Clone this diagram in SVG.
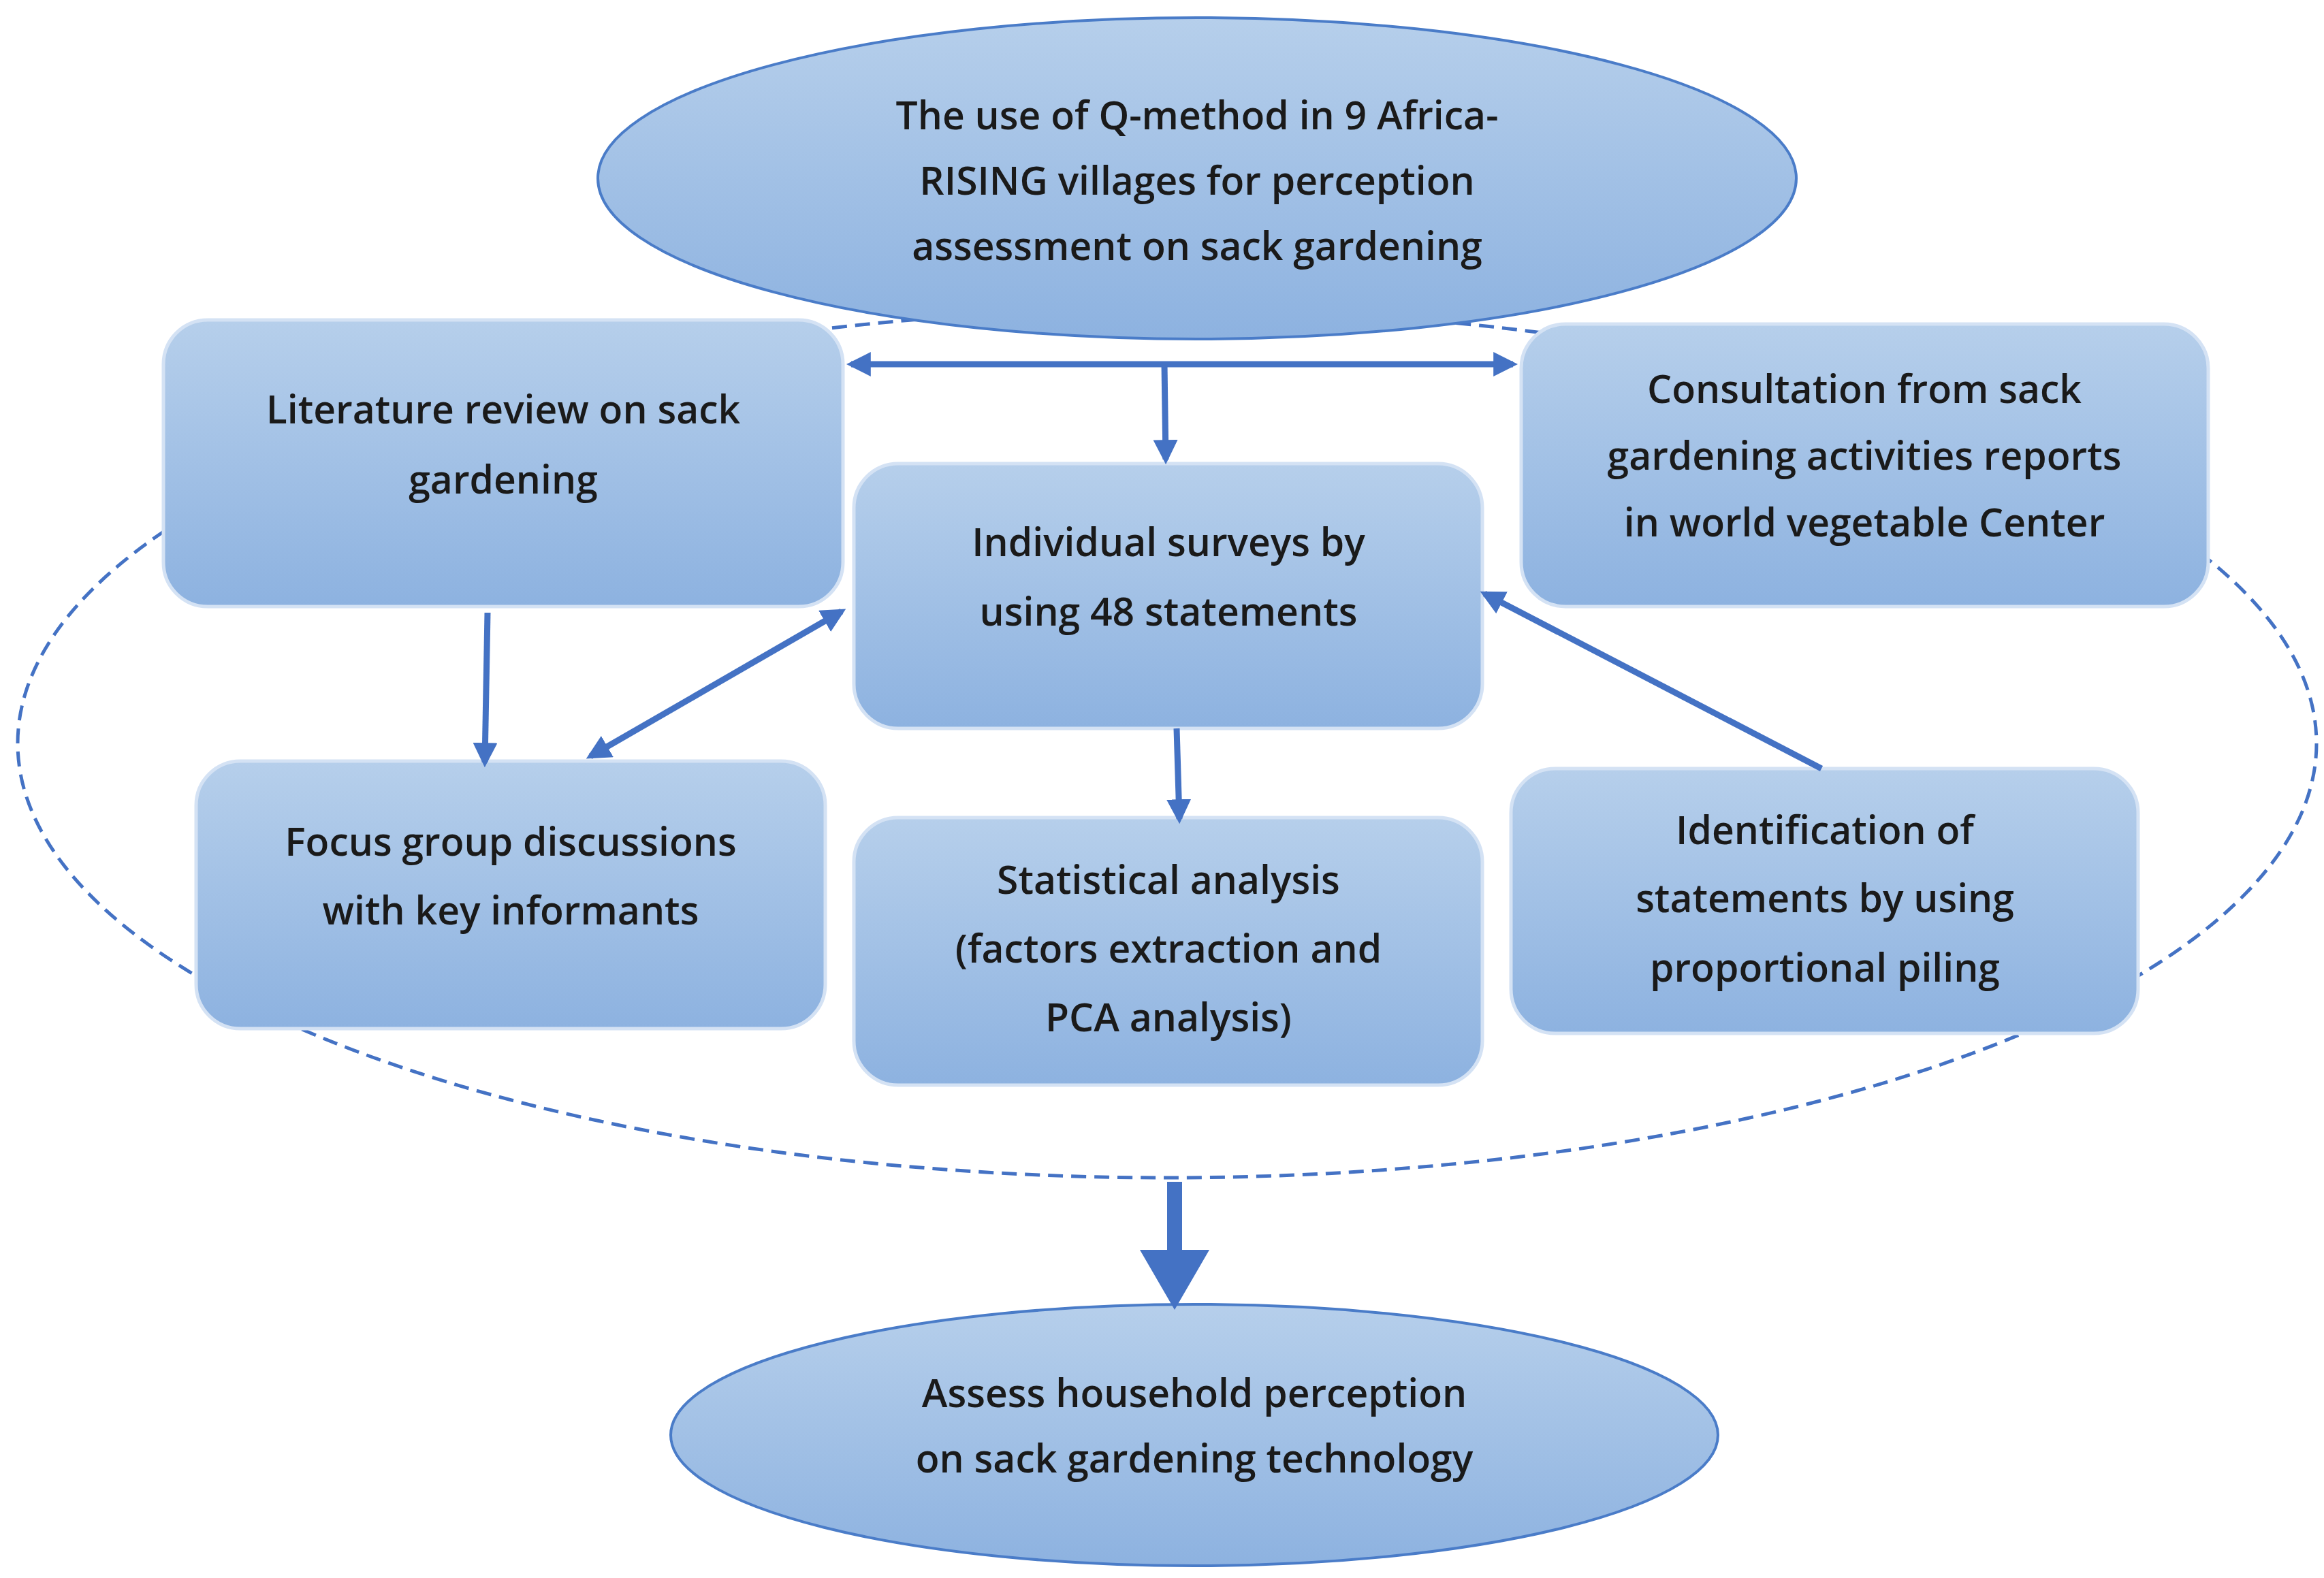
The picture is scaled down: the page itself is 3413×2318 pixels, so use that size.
<svg xmlns="http://www.w3.org/2000/svg" width="3413" height="2318" viewBox="0 0 3413 2318">
<style>
.t{font-family:"Open Sans","Liberation Sans",sans-serif;font-size:57px;font-weight:600;fill:#1a1a1a;text-anchor:middle}
.box{fill:url(#g);stroke:#d4e2f4;stroke-width:5}
.ell{fill:url(#g);stroke:#4a7cc8;stroke-width:4}
.c{stroke:#4472c4;stroke-width:9;fill:none}
</style>
<defs>
<linearGradient id="g" x1="0" y1="0" x2="0" y2="1"><stop offset="0" stop-color="#b6cfeb"/><stop offset="1" stop-color="#8db2e0"/></linearGradient>
<marker id="a" viewBox="0 0 10 10" refX="8" refY="5" markerWidth="4" markerHeight="4" orient="auto-start-reverse"><path d="M0,0L10,5L0,10z" fill="#4472c4"/></marker>
</defs>
<ellipse cx="1714" cy="1092" rx="1688" ry="638" fill="none" stroke="#4472c4" stroke-width="5" stroke-dasharray="22,12"/>
<g id="top"><ellipse class="ell" cx="1758" cy="262" rx="880" ry="236"/>
<text class="t" x="1758" y="190">The use of Q-method in 9 Africa-</text>
<text class="t" x="1758" y="286">RISING villages for perception</text>
<text class="t" x="1758" y="382">assessment on sack gardening</text></g>
<g id="lit"><rect class="box" x="240" y="470" width="998" height="421" rx="65"/>
<text class="t" x="739" y="622">Literature review on sack</text>
<text class="t" x="739" y="725">gardening</text></g>
<g id="cons"><rect class="box" x="2234" y="476" width="1009" height="415" rx="65"/>
<text class="t" x="2738" y="592">Consultation from sack</text>
<text class="t" x="2738" y="690">gardening activities reports</text>
<text class="t" x="2738" y="788">in world vegetable Center</text></g>
<g id="ind"><rect class="box" x="1254" y="681" width="923" height="389" rx="65"/>
<text class="t" x="1716" y="817">Individual surveys by</text>
<text class="t" x="1716" y="919">using 48 statements</text></g>
<g id="focus"><rect class="box" x="288" y="1118" width="924" height="393" rx="65"/>
<text class="t" x="750" y="1257">Focus group discussions</text>
<text class="t" x="750" y="1358">with key informants</text></g>
<g id="stat"><rect class="box" x="1254" y="1201" width="923" height="393" rx="65"/>
<text class="t" x="1716" y="1313">Statistical analysis</text>
<text class="t" x="1716" y="1414">(factors extraction and</text>
<text class="t" x="1716" y="1515">PCA analysis)</text></g>
<g id="ident"><rect class="box" x="2219" y="1129" width="921" height="389" rx="65"/>
<text class="t" x="2680" y="1240">Identification of</text>
<text class="t" x="2680" y="1340">statements by using</text>
<text class="t" x="2680" y="1442">proportional piling</text></g>
<g id="bottom"><ellipse class="ell" cx="1754" cy="2108" rx="769" ry="192"/>
<text class="t" x="1754" y="2067">Assess household perception</text>
<text class="t" x="1754" y="2163">on sack gardening technology</text></g>
<g id="connectors">
<line class="c" x1="1250" y1="535" x2="2222" y2="535" marker-start="url(#a)" marker-end="url(#a)"/>
<line class="c" x1="1710" y1="535" x2="1712" y2="675" marker-end="url(#a)"/>
<line class="c" x1="716" y1="900" x2="712" y2="1120" marker-end="url(#a)"/>
<line class="c" x1="1236" y1="898" x2="867" y2="1111" marker-start="url(#a)" marker-end="url(#a)"/>
<line class="c" x1="1728" y1="1070" x2="1732" y2="1203" marker-end="url(#a)"/>
<line class="c" x1="2675" y1="1129" x2="2180" y2="872" marker-end="url(#a)"/>
<path d="M1714,1736h22v100h40l-51,88l-51,-88h40z" fill="#4472c4"/>
</g>
</svg>
